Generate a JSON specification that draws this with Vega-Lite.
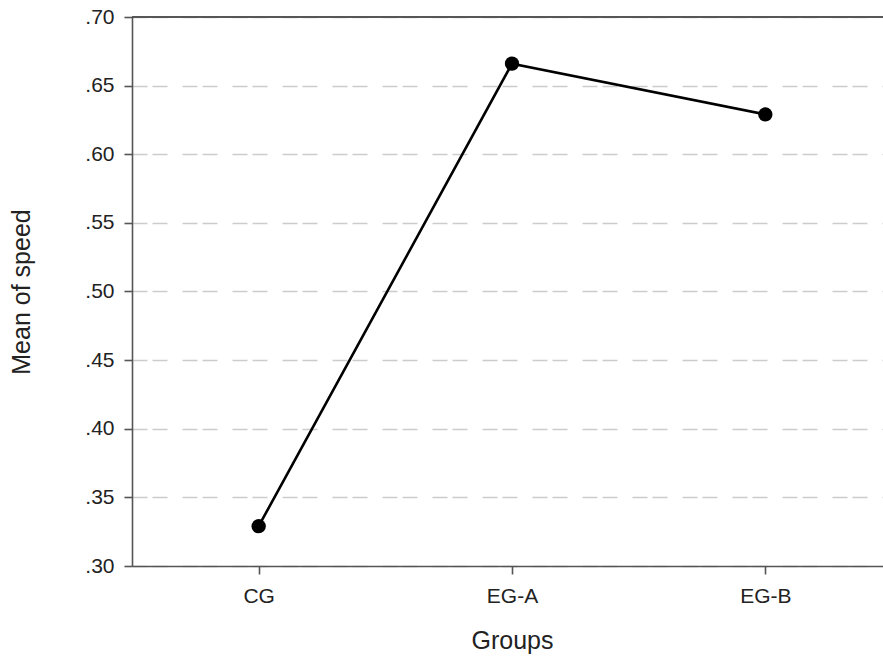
{
  "$schema": "https://vega.github.io/schema/vega-lite/v6.json",
  "width": 751,
  "height": 549,
  "autosize": "none",
  "padding": {"left": 132, "top": 17, "right": 0, "bottom": 92},
  "background": "white",
  "config": {
    "view": {"stroke": null},
    "font": "Liberation Sans",
    "axis": {
      "labelFontSize": 21,
      "labelColor": "#222222",
      "tickSize": 8,
      "tickColor": "#555555",
      "tickWidth": 1.6,
      "domainColor": "#555555",
      "domainWidth": 1.6,
      "titleFontSize": 25,
      "titleFontWeight": "normal",
      "titleColor": "#222222"
    }
  },
  "data": {
    "values": [
      {"group": "CG", "mean": 0.329},
      {"group": "EG-A", "mean": 0.666},
      {"group": "EG-B", "mean": 0.629}
    ]
  },
  "encoding": {
    "x": {
      "field": "group",
      "type": "ordinal",
      "scale": {"type": "point", "padding": 0.5, "range": [0, 760]},
      "axis": {
        "title": "Groups",
        "labelAngle": 0,
        "labelPadding": 11,
        "titlePadding": 22,
        "grid": false
      }
    },
    "y": {
      "field": "mean",
      "type": "quantitative",
      "scale": {"domain": [0.3, 0.7], "nice": false, "zero": false},
      "axis": {
        "title": "Mean of speed",
        "values": [0.3, 0.35, 0.4, 0.45, 0.5, 0.55, 0.6, 0.65, 0.7],
        "labelExpr": "replace(format(datum.value, '.2f'), '0.', '.')",
        "labelPadding": 10,
        "grid": true,
        "gridColor": "#cccccc",
        "gridWidth": 1.5,
        "gridDash": [15, 5, 15, 15],
        "titlePadding": 50
      }
    }
  },
  "layer": [
    {
      "mark": {"type": "line", "color": "black", "strokeWidth": 2.6}
    },
    {
      "mark": {"type": "point", "filled": true, "color": "black", "size": 205, "opacity": 1}
    },
    {
      "mark": {"type": "rule", "color": "#555555", "strokeWidth": 1.6},
      "encoding": {
        "x": null,
        "y": {"datum": 0.7, "type": "quantitative"}
      }
    }
  ]
}
